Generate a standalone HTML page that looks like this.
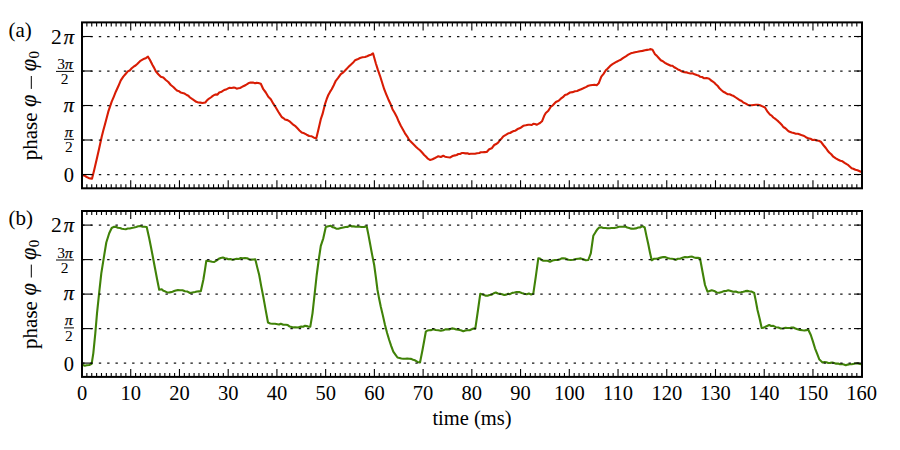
<!DOCTYPE html>
<html><head><meta charset="utf-8"><title>phase plot</title>
<style>html,body{margin:0;padding:0;background:#fff;width:900px;height:450px;overflow:hidden}svg{display:block;font-family:"Liberation Serif",serif}</style>
</head><body><svg width="900" height="450" viewBox="0 0 900 450"><polyline fill="none" stroke="#d81c04" stroke-width="2.1" stroke-linejoin="round" stroke-linecap="round" points="82.5,175 84.6,175.63 86.7,177 88.47,177.91 90.23,178.4 92,178.7 94.2,170 96.7,159.2 99.2,148.3 101.7,136.7 103.35,130.21 105,124.2 106.65,117.95 108.3,111.7 110,106.65 111.7,101.7 113.75,96.85 115.8,91.7 118.3,86.29 120.8,80.3 123.3,76.59 125.8,73.7 127.77,71.43 129.73,70.44 131.7,68.3 133.63,66.7 135.57,65.5 137.5,63.7 140,61.2 142.5,59.7 144.33,58.65 146.17,57.92 148,56.7 150,60 152.5,65 154.15,67.88 155.8,71.3 158.3,74.2 160.8,76.7 163.3,77.5 165.8,80 168.3,82 170.8,85 173.3,87 175.8,89.5 177.5,90.85 179.2,91.3 180.85,92.55 182.5,93 184.6,93.53 186.7,95 188.35,95.78 190,97.5 192.1,98.94 194.2,100.3 196.25,101.84 198.3,102.5 200.4,102.63 202.5,103 205.3,102.5 206.8,100.57 208.3,99.2 210.8,97.5 212.5,96.17 214.2,95 215.85,94.38 217.5,94.7 219.2,92.5 221.7,91.7 224.2,90 226.7,89.2 229.2,87.8 231.7,88 233.7,87.5 235.2,87.82 236.7,88.7 238.35,88.29 240,88 241.65,87.1 243.3,86.2 245.8,85 248.3,83.3 250,82.63 251.7,82.5 253.35,82.63 255,83.3 256.65,82.87 258.3,83 260.8,83.7 263.3,89.2 265.8,92.5 268.3,96.7 270.8,99.2 273.3,103.7 275.8,107.5 278.3,111.7 280,114.31 281.7,117 283.35,118.04 285,119.5 287.5,120.12 290,121.7 292.5,124.09 295,125.8 297.23,128.09 299.47,130.41 301.7,132.5 304.2,133.29 306.7,134.7 309.2,135.99 311.7,136.3 314,137.66 316.3,138.3 318.3,130 320.8,119.2 322.5,114.2 325,104.2 326.65,99.22 328.3,95 330,91.93 331.7,89.2 333.75,85.22 335.8,80.8 338.3,77.71 340.8,74.2 343.3,72.39 345.8,69.7 348.3,67.12 350.8,64.7 352.9,62.83 355,60.3 357.5,59.32 360,58 362.5,57.3 365,57 367.1,56.24 369.2,55.3 371.1,54.68 373,53.3 375.8,63.3 377.9,69.9 380,75.8 382.1,82.51 384.2,89.2 386.25,94.29 388.3,99.2 390.4,103.73 392.5,109.2 394.6,112.69 396.7,116.7 398.75,121.55 400.8,125.8 402.9,129.46 405,133.3 407.1,136.32 409.2,140 411.7,142.55 414.2,145 416.13,146.97 418.07,148.71 420,150.3 422.1,152.52 424.2,155 425.85,156.59 427.5,158.3 430,160 432.5,159.2 435,158 436.65,157.16 438.3,156.3 440.8,157 443.3,155.8 445,156.68 446.7,157 448.35,157.27 450,157.5 451.65,156.54 453.3,155.8 455,155.39 456.7,155 458.35,154.03 460,154 461.65,153.04 463.3,153 465.4,153.35 467.5,153.3 469.15,153.98 470.8,153.7 472.9,153.79 475,153.7 477.1,153.24 479.2,153 480.85,152.27 482.5,152.2 484.6,152.1 486.7,152 489.2,149.2 491.7,148.3 494.2,145 496.7,143.7 498.35,142.33 500,140 501.65,138.42 503.3,136.3 505.8,134.84 508.3,133.3 510,133.01 511.7,132 513.35,131.13 515,130.8 516.65,129.76 518.3,128.7 520.8,127.7 523.3,125.8 525.8,125.33 528.3,124.7 530,124.81 531.7,125 533.3,123.8 535,124.02 536.7,124.7 538.35,123.9 540,123 542,121.3 544.2,115.8 545.8,113 548.3,110.8 550.8,106.7 552.5,105.66 554.2,103.7 555.85,102.01 557.5,101.3 559.15,100.28 560.8,98.7 562.9,97.17 565,95 567.5,94.14 570,92.5 572.5,92.14 575,91.3 577.1,90.96 579.2,90 581.25,89.17 583.3,88.3 585.8,87.11 588.3,85.8 590.4,85.33 592.5,85 594.6,84.71 596.7,85.3 598.7,83.3 601.3,76.7 603.55,73.87 605.8,70.3 607.5,68.72 609.2,67 610.85,65.3 612.5,64.2 614.6,62.95 616.7,61.7 618.75,60.68 620.8,59.7 623.3,57.86 625.8,56.3 628.3,54.65 630.8,53.3 632.9,52.79 635,52.2 637.5,51.82 640,51.2 642.5,50.86 645,50.3 647.1,49.86 649.2,49.5 650.85,49.13 652.5,49.7 655,54.2 656.65,55.58 658.3,57.5 660.8,60.3 662.9,61.23 665,62.8 667.1,63.98 669.2,65 670.85,65.76 672.5,65.8 674.15,67.2 675.8,68 677.9,69.45 680,70.3 682.1,71.57 684.2,72.2 686.25,72.36 688.3,73 690.4,73.49 692.5,73.3 694.6,74.32 696.7,75 698.35,75.43 700,76.7 702.1,77.02 704.2,78.3 706.7,78.01 709.2,78.7 710.85,80.26 712.5,81.3 714.15,82.5 715.8,84.2 717.5,85.71 719.2,88 721.25,89.97 723.3,91.7 725.4,92.79 727.5,94.2 729.6,94.32 731.7,95.3 733.75,96.06 735.8,97.5 737.9,98.93 740,100.3 741.65,101.07 743.3,102.5 745.4,103.37 747.5,104.7 749.6,105.21 751.7,105.3 753.75,104.95 755.8,104.7 757.9,104.82 760,105.3 762.5,106.37 765,107.5 767.5,111.7 770,114.7 771.65,115.62 773.3,117.5 775,118.64 776.7,120 778.35,121.42 780,123 781.65,124.69 783.3,127 785.4,128.26 787.5,130.3 789.6,131.8 791.7,132.5 793.75,133.11 795.8,133.7 797.9,133.81 800,134.5 802.1,135.36 804.2,136 806.25,137.47 808.3,138.3 810.4,138.67 812.5,140 814.6,139.77 816.7,140.5 818.75,140.75 820.8,141.7 823.3,145 825.8,148 827.5,150.47 829.2,152.5 831.25,154.26 833.3,156.7 835.8,158.4 838.3,159.7 840.4,160.68 842.5,161.3 844.6,162.79 846.7,164.2 848.35,165.17 850,166.7 851.65,168.18 853.3,168.7 855.4,169.8 857.5,170.3 859.15,171.02 860.8,171.7"/><polyline fill="none" stroke="#408208" stroke-width="2.1" stroke-linejoin="round" stroke-linecap="round" points="83,365 84.85,365.7 86.7,365.3 89.2,365.04 91.7,363.7 93.3,353.3 95.3,333.3 97,313.3 99.15,292.77 101.3,273.3 103.7,258.3 106.3,242.5 109.2,233.3 111.7,228 113.75,226.85 115.8,226.7 117.9,227.75 120,228 121.93,228.68 123.87,229 125.8,229.2 127.77,228.57 129.73,228.53 131.7,228 133.9,227.53 136.1,226.9 138.3,226.2 140.4,226.04 142.5,226.7 144.6,226.77 146.7,227 149.2,238.3 150.85,246.52 152.5,255 155,268.3 157.1,279.27 159.2,289.7 161.7,289.2 163.35,290.84 165,291.3 167.1,292.44 169.2,292.5 170.85,292.15 172.5,291.7 174.15,291.03 175.8,290.5 177.9,290.12 180,290.3 182.5,290.24 185,291.3 187.5,291.58 190,293 192.5,292.46 195,292 196.93,291.55 198.87,291.39 200.8,291.3 203.3,280 204.8,270.87 206.3,260.8 208.15,261.08 210,261.3 212.1,261.72 214.2,262 216.7,260.3 218.75,258.83 220.8,258 222.9,257.58 225,258.3 226.65,258.54 228.3,259.2 230.4,259.01 232.5,259.7 234.6,259.21 236.7,258.7 238.75,258.95 240.8,258 242.9,258.21 245,258 247.1,258.22 249.2,259.2 251.23,259.67 253.27,259.56 255.3,259.2 257.25,267.38 259.2,275 261.25,286.34 263.3,296.7 265.65,309.92 268,322.5 270.25,323.45 272.5,323.7 275,323.77 277.5,324.2 279.15,324.53 280.8,323.7 283.3,324.75 285.8,324.7 287.77,325.06 289.73,326.54 291.7,327 293.63,327.42 295.57,327.29 297.5,327.5 299.38,327.11 301.25,326.64 303.12,326.73 305,325.8 306.77,326.1 308.53,326.8 310.3,326.7 312.5,313.3 314.7,293.3 316.7,275 318.7,260 320.8,245.8 323.3,238.3 325.8,227 328.3,226.22 330.8,225.8 332.5,227.11 334.2,227.5 336.25,228.58 338.3,228.7 340.8,228.05 343.3,227.5 345.53,227.01 347.77,226.87 350,225.8 351.93,226.37 353.87,226.38 355.8,226.7 357.77,226.47 359.73,226.69 361.7,227 364.2,226.89 366.7,226.3 368.35,234.4 370,243.3 372.1,254.64 374.2,265 375.85,277.22 377.5,290 379.15,298.84 380.8,306.7 382.9,315.62 385,325 387.1,333.05 389.2,340 391.25,346.1 393.3,351.7 395.4,354.61 397.5,357.5 399.43,357.92 401.37,358.48 403.3,358.7 405.27,358.81 407.23,358.47 409.2,358.7 411.13,358.88 413.07,359.78 415,360.3 417.5,361.92 420,362.5 422.5,350 424.15,341 425.8,331.7 427.5,330.49 429.2,330.3 431.25,330.13 433.3,329.2 435.8,330.02 438.3,330.3 440.8,330.79 443.3,330.3 445.4,329.38 447.5,329.2 449.73,329.33 451.97,328.34 454.2,328.7 456.25,329.38 458.3,329.7 460.8,330.23 463.3,331.3 465.4,330.47 467.5,330.3 469.6,330.2 471.7,329.2 473.5,328.48 475.3,328.7 478,310 480.3,293.7 481.8,294.23 483.3,294.7 485.4,295.67 487.5,295.8 489.6,294.94 491.7,294.7 493.75,293.25 495.8,292.5 497.9,293.56 500,293.7 502.1,294.26 504.2,295 506.25,294.61 508.3,293.7 510,294.2 512.23,292.9 514.47,292.57 516.7,292 519.2,292.11 521.7,293 524.2,293.81 526.7,294.2 528.9,293.53 531.1,294.41 533.3,293.7 535.8,276.7 538.3,258.3 540,258.58 541.7,260 543.35,260.68 545,260.8 547.5,260.68 550,261.7 552.5,260.56 555,260 557.5,259.98 560,259.2 561.65,258.34 563.3,258.3 565.8,258.62 568.3,259.7 570.8,259.93 573.3,259.7 575.8,259.06 578.3,258.7 580.8,258.4 583.3,259.2 585.8,260.19 588.3,260 590.8,253.3 593.3,235.8 595.8,231.7 597.5,229.18 599.2,227.5 601.25,227.19 603.3,228 605.4,227.96 607.5,228.3 609.6,228.29 611.7,228 614.2,228.04 616.7,227.5 618.9,226.77 621.1,226.77 623.3,226.7 625.27,226.57 627.23,227.51 629.2,228 631.25,228.67 633.3,228.7 635.8,228.39 638.3,227.5 640.4,227.33 642.5,226.2 644.7,227.5 646.5,236.16 648.3,244.2 650,252.68 651.7,260.3 654.2,258.7 656.25,258.75 658.3,258.3 660.8,257.62 663.3,257 665.4,257.17 667.5,258 669.6,258.54 671.7,258.7 673.75,258.98 675.8,259.7 677.9,258.72 680,258.7 682.5,257.79 685,257 687.5,257.3 690,256.7 692.1,256.65 694.2,257.5 696.13,257.87 698.07,257.9 700,258.3 702.5,271.7 705,285 707.5,291.7 709.6,291.02 711.7,290.3 714.2,290.97 716.7,292.5 719.2,292.8 721.7,292 723.9,291.14 726.1,290.99 728.3,290.3 730.8,290.9 733.3,291.7 735.8,291.52 738.3,292.5 740.8,292.17 743.3,291.7 745.27,291.14 747.23,290.9 749.2,291.3 751.7,291.59 754.2,293 755.85,301.09 757.5,310 759.6,318.52 761.7,328 763.35,327.66 765,327 767.1,326.01 769.2,325 771.25,325.98 773.3,325.8 775.8,327.17 778.3,327.5 780.8,328.49 783.3,328.3 785.53,327.88 787.77,328.03 790,328 791.65,327.45 793.3,327.5 795.4,328.46 797.5,329.2 800,329.9 802.5,330.3 804.43,330.46 806.37,330.15 808.3,329.7 810.8,335 812.9,341.36 815,348.3 817.1,353.66 819.2,359.2 820.85,360.88 822.5,362.5 824.43,362.07 826.37,362.28 828.3,363 830.27,362.89 832.23,362.53 834.2,363 836.13,363.67 838.07,363.49 840,364.2 841.93,364.09 843.87,364.55 845.8,365.3 847.77,364.61 849.73,364.23 851.7,364.2 854.2,363.77 856.7,363.3 859,363.71 861.3,364.2"/><line x1="82" y1="174.5" x2="862" y2="174.5" stroke="#151515" stroke-width="1.25" stroke-dasharray="2.4 5.93" stroke-dashoffset="8.18"/><line x1="82" y1="174.5" x2="92" y2="174.5" stroke="#000" stroke-width="1.1"/><line x1="854" y1="174.5" x2="862" y2="174.5" stroke="#000" stroke-width="1.1"/><line x1="82" y1="140" x2="862" y2="140" stroke="#151515" stroke-width="1.25" stroke-dasharray="2.4 5.93" stroke-dashoffset="8.18"/><line x1="82" y1="140" x2="92" y2="140" stroke="#000" stroke-width="1.1"/><line x1="854" y1="140" x2="862" y2="140" stroke="#000" stroke-width="1.1"/><line x1="82" y1="105.5" x2="862" y2="105.5" stroke="#151515" stroke-width="1.25" stroke-dasharray="2.4 5.93" stroke-dashoffset="8.18"/><line x1="82" y1="105.5" x2="92" y2="105.5" stroke="#000" stroke-width="1.1"/><line x1="854" y1="105.5" x2="862" y2="105.5" stroke="#000" stroke-width="1.1"/><line x1="82" y1="71" x2="862" y2="71" stroke="#151515" stroke-width="1.25" stroke-dasharray="2.4 5.93" stroke-dashoffset="8.18"/><line x1="82" y1="71" x2="92" y2="71" stroke="#000" stroke-width="1.1"/><line x1="854" y1="71" x2="862" y2="71" stroke="#000" stroke-width="1.1"/><line x1="82" y1="36.5" x2="862" y2="36.5" stroke="#151515" stroke-width="1.25" stroke-dasharray="2.4 5.93" stroke-dashoffset="8.18"/><line x1="82" y1="36.5" x2="92" y2="36.5" stroke="#000" stroke-width="1.1"/><line x1="854" y1="36.5" x2="862" y2="36.5" stroke="#000" stroke-width="1.1"/><path d="M82 22.4v8M82 188.3v-8M86.87 22.4v4M86.87 188.3v-4M91.75 22.4v4M91.75 188.3v-4M96.62 22.4v4M96.62 188.3v-4M101.49 22.4v4M101.49 188.3v-4M106.37 22.4v4M106.37 188.3v-4M111.24 22.4v4M111.24 188.3v-4M116.11 22.4v4M116.11 188.3v-4M120.98 22.4v4M120.98 188.3v-4M125.86 22.4v4M125.86 188.3v-4M130.73 22.4v8M130.73 188.3v-8M135.6 22.4v4M135.6 188.3v-4M140.48 22.4v4M140.48 188.3v-4M145.35 22.4v4M145.35 188.3v-4M150.22 22.4v4M150.22 188.3v-4M155.09 22.4v4M155.09 188.3v-4M159.97 22.4v4M159.97 188.3v-4M164.84 22.4v4M164.84 188.3v-4M169.71 22.4v4M169.71 188.3v-4M174.59 22.4v4M174.59 188.3v-4M179.46 22.4v8M179.46 188.3v-8M184.33 22.4v4M184.33 188.3v-4M189.21 22.4v4M189.21 188.3v-4M194.08 22.4v4M194.08 188.3v-4M198.95 22.4v4M198.95 188.3v-4M203.82 22.4v4M203.82 188.3v-4M208.7 22.4v4M208.7 188.3v-4M213.57 22.4v4M213.57 188.3v-4M218.44 22.4v4M218.44 188.3v-4M223.32 22.4v4M223.32 188.3v-4M228.19 22.4v8M228.19 188.3v-8M233.06 22.4v4M233.06 188.3v-4M237.94 22.4v4M237.94 188.3v-4M242.81 22.4v4M242.81 188.3v-4M247.68 22.4v4M247.68 188.3v-4M252.56 22.4v4M252.56 188.3v-4M257.43 22.4v4M257.43 188.3v-4M262.3 22.4v4M262.3 188.3v-4M267.17 22.4v4M267.17 188.3v-4M272.05 22.4v4M272.05 188.3v-4M276.92 22.4v8M276.92 188.3v-8M281.79 22.4v4M281.79 188.3v-4M286.67 22.4v4M286.67 188.3v-4M291.54 22.4v4M291.54 188.3v-4M296.41 22.4v4M296.41 188.3v-4M301.28 22.4v4M301.28 188.3v-4M306.16 22.4v4M306.16 188.3v-4M311.03 22.4v4M311.03 188.3v-4M315.9 22.4v4M315.9 188.3v-4M320.78 22.4v4M320.78 188.3v-4M325.65 22.4v8M325.65 188.3v-8M330.52 22.4v4M330.52 188.3v-4M335.4 22.4v4M335.4 188.3v-4M340.27 22.4v4M340.27 188.3v-4M345.14 22.4v4M345.14 188.3v-4M350.01 22.4v4M350.01 188.3v-4M354.89 22.4v4M354.89 188.3v-4M359.76 22.4v4M359.76 188.3v-4M364.63 22.4v4M364.63 188.3v-4M369.51 22.4v4M369.51 188.3v-4M374.38 22.4v8M374.38 188.3v-8M379.25 22.4v4M379.25 188.3v-4M384.13 22.4v4M384.13 188.3v-4M389 22.4v4M389 188.3v-4M393.87 22.4v4M393.87 188.3v-4M398.75 22.4v4M398.75 188.3v-4M403.62 22.4v4M403.62 188.3v-4M408.49 22.4v4M408.49 188.3v-4M413.36 22.4v4M413.36 188.3v-4M418.24 22.4v4M418.24 188.3v-4M423.11 22.4v8M423.11 188.3v-8M427.98 22.4v4M427.98 188.3v-4M432.86 22.4v4M432.86 188.3v-4M437.73 22.4v4M437.73 188.3v-4M442.6 22.4v4M442.6 188.3v-4M447.48 22.4v4M447.48 188.3v-4M452.35 22.4v4M452.35 188.3v-4M457.22 22.4v4M457.22 188.3v-4M462.09 22.4v4M462.09 188.3v-4M466.97 22.4v4M466.97 188.3v-4M471.84 22.4v8M471.84 188.3v-8M476.71 22.4v4M476.71 188.3v-4M481.59 22.4v4M481.59 188.3v-4M486.46 22.4v4M486.46 188.3v-4M491.33 22.4v4M491.33 188.3v-4M496.21 22.4v4M496.21 188.3v-4M501.08 22.4v4M501.08 188.3v-4M505.95 22.4v4M505.95 188.3v-4M510.82 22.4v4M510.82 188.3v-4M515.7 22.4v4M515.7 188.3v-4M520.57 22.4v8M520.57 188.3v-8M525.44 22.4v4M525.44 188.3v-4M530.32 22.4v4M530.32 188.3v-4M535.19 22.4v4M535.19 188.3v-4M540.06 22.4v4M540.06 188.3v-4M544.93 22.4v4M544.93 188.3v-4M549.81 22.4v4M549.81 188.3v-4M554.68 22.4v4M554.68 188.3v-4M559.55 22.4v4M559.55 188.3v-4M564.43 22.4v4M564.43 188.3v-4M569.3 22.4v8M569.3 188.3v-8M574.17 22.4v4M574.17 188.3v-4M579.05 22.4v4M579.05 188.3v-4M583.92 22.4v4M583.92 188.3v-4M588.79 22.4v4M588.79 188.3v-4M593.66 22.4v4M593.66 188.3v-4M598.54 22.4v4M598.54 188.3v-4M603.41 22.4v4M603.41 188.3v-4M608.28 22.4v4M608.28 188.3v-4M613.16 22.4v4M613.16 188.3v-4M618.03 22.4v8M618.03 188.3v-8M622.9 22.4v4M622.9 188.3v-4M627.78 22.4v4M627.78 188.3v-4M632.65 22.4v4M632.65 188.3v-4M637.52 22.4v4M637.52 188.3v-4M642.39 22.4v4M642.39 188.3v-4M647.27 22.4v4M647.27 188.3v-4M652.14 22.4v4M652.14 188.3v-4M657.01 22.4v4M657.01 188.3v-4M661.89 22.4v4M661.89 188.3v-4M666.76 22.4v8M666.76 188.3v-8M671.63 22.4v4M671.63 188.3v-4M676.51 22.4v4M676.51 188.3v-4M681.38 22.4v4M681.38 188.3v-4M686.25 22.4v4M686.25 188.3v-4M691.12 22.4v4M691.12 188.3v-4M696 22.4v4M696 188.3v-4M700.87 22.4v4M700.87 188.3v-4M705.74 22.4v4M705.74 188.3v-4M710.62 22.4v4M710.62 188.3v-4M715.49 22.4v8M715.49 188.3v-8M720.36 22.4v4M720.36 188.3v-4M725.24 22.4v4M725.24 188.3v-4M730.11 22.4v4M730.11 188.3v-4M734.98 22.4v4M734.98 188.3v-4M739.86 22.4v4M739.86 188.3v-4M744.73 22.4v4M744.73 188.3v-4M749.6 22.4v4M749.6 188.3v-4M754.47 22.4v4M754.47 188.3v-4M759.35 22.4v4M759.35 188.3v-4M764.22 22.4v8M764.22 188.3v-8M769.09 22.4v4M769.09 188.3v-4M773.97 22.4v4M773.97 188.3v-4M778.84 22.4v4M778.84 188.3v-4M783.71 22.4v4M783.71 188.3v-4M788.59 22.4v4M788.59 188.3v-4M793.46 22.4v4M793.46 188.3v-4M798.33 22.4v4M798.33 188.3v-4M803.2 22.4v4M803.2 188.3v-4M808.08 22.4v4M808.08 188.3v-4M812.95 22.4v8M812.95 188.3v-8M817.82 22.4v4M817.82 188.3v-4M822.7 22.4v4M822.7 188.3v-4M827.57 22.4v4M827.57 188.3v-4M832.44 22.4v4M832.44 188.3v-4M837.32 22.4v4M837.32 188.3v-4M842.19 22.4v4M842.19 188.3v-4M847.06 22.4v4M847.06 188.3v-4M851.93 22.4v4M851.93 188.3v-4M856.81 22.4v4M856.81 188.3v-4M861.68 22.4v8M861.68 188.3v-8" stroke="#000" stroke-width="1.1" fill="none"/><rect x="82" y="22.4" width="780" height="165.9" fill="none" stroke="#000" stroke-width="2"/><line x1="82" y1="363.1" x2="862" y2="363.1" stroke="#151515" stroke-width="1.25" stroke-dasharray="2.4 5.93" stroke-dashoffset="8.18"/><line x1="82" y1="363.1" x2="92" y2="363.1" stroke="#000" stroke-width="1.1"/><line x1="854" y1="363.1" x2="862" y2="363.1" stroke="#000" stroke-width="1.1"/><line x1="82" y1="328.6" x2="862" y2="328.6" stroke="#151515" stroke-width="1.25" stroke-dasharray="2.4 5.93" stroke-dashoffset="8.18"/><line x1="82" y1="328.6" x2="92" y2="328.6" stroke="#000" stroke-width="1.1"/><line x1="854" y1="328.6" x2="862" y2="328.6" stroke="#000" stroke-width="1.1"/><line x1="82" y1="294.1" x2="862" y2="294.1" stroke="#151515" stroke-width="1.25" stroke-dasharray="2.4 5.93" stroke-dashoffset="8.18"/><line x1="82" y1="294.1" x2="92" y2="294.1" stroke="#000" stroke-width="1.1"/><line x1="854" y1="294.1" x2="862" y2="294.1" stroke="#000" stroke-width="1.1"/><line x1="82" y1="259.6" x2="862" y2="259.6" stroke="#151515" stroke-width="1.25" stroke-dasharray="2.4 5.93" stroke-dashoffset="8.18"/><line x1="82" y1="259.6" x2="92" y2="259.6" stroke="#000" stroke-width="1.1"/><line x1="854" y1="259.6" x2="862" y2="259.6" stroke="#000" stroke-width="1.1"/><line x1="82" y1="225.1" x2="862" y2="225.1" stroke="#151515" stroke-width="1.25" stroke-dasharray="2.4 5.93" stroke-dashoffset="8.18"/><line x1="82" y1="225.1" x2="92" y2="225.1" stroke="#000" stroke-width="1.1"/><line x1="854" y1="225.1" x2="862" y2="225.1" stroke="#000" stroke-width="1.1"/><path d="M82 211v8M82 376.9v-8M86.87 211v4M86.87 376.9v-4M91.75 211v4M91.75 376.9v-4M96.62 211v4M96.62 376.9v-4M101.49 211v4M101.49 376.9v-4M106.37 211v4M106.37 376.9v-4M111.24 211v4M111.24 376.9v-4M116.11 211v4M116.11 376.9v-4M120.98 211v4M120.98 376.9v-4M125.86 211v4M125.86 376.9v-4M130.73 211v8M130.73 376.9v-8M135.6 211v4M135.6 376.9v-4M140.48 211v4M140.48 376.9v-4M145.35 211v4M145.35 376.9v-4M150.22 211v4M150.22 376.9v-4M155.09 211v4M155.09 376.9v-4M159.97 211v4M159.97 376.9v-4M164.84 211v4M164.84 376.9v-4M169.71 211v4M169.71 376.9v-4M174.59 211v4M174.59 376.9v-4M179.46 211v8M179.46 376.9v-8M184.33 211v4M184.33 376.9v-4M189.21 211v4M189.21 376.9v-4M194.08 211v4M194.08 376.9v-4M198.95 211v4M198.95 376.9v-4M203.82 211v4M203.82 376.9v-4M208.7 211v4M208.7 376.9v-4M213.57 211v4M213.57 376.9v-4M218.44 211v4M218.44 376.9v-4M223.32 211v4M223.32 376.9v-4M228.19 211v8M228.19 376.9v-8M233.06 211v4M233.06 376.9v-4M237.94 211v4M237.94 376.9v-4M242.81 211v4M242.81 376.9v-4M247.68 211v4M247.68 376.9v-4M252.56 211v4M252.56 376.9v-4M257.43 211v4M257.43 376.9v-4M262.3 211v4M262.3 376.9v-4M267.17 211v4M267.17 376.9v-4M272.05 211v4M272.05 376.9v-4M276.92 211v8M276.92 376.9v-8M281.79 211v4M281.79 376.9v-4M286.67 211v4M286.67 376.9v-4M291.54 211v4M291.54 376.9v-4M296.41 211v4M296.41 376.9v-4M301.28 211v4M301.28 376.9v-4M306.16 211v4M306.16 376.9v-4M311.03 211v4M311.03 376.9v-4M315.9 211v4M315.9 376.9v-4M320.78 211v4M320.78 376.9v-4M325.65 211v8M325.65 376.9v-8M330.52 211v4M330.52 376.9v-4M335.4 211v4M335.4 376.9v-4M340.27 211v4M340.27 376.9v-4M345.14 211v4M345.14 376.9v-4M350.01 211v4M350.01 376.9v-4M354.89 211v4M354.89 376.9v-4M359.76 211v4M359.76 376.9v-4M364.63 211v4M364.63 376.9v-4M369.51 211v4M369.51 376.9v-4M374.38 211v8M374.38 376.9v-8M379.25 211v4M379.25 376.9v-4M384.13 211v4M384.13 376.9v-4M389 211v4M389 376.9v-4M393.87 211v4M393.87 376.9v-4M398.75 211v4M398.75 376.9v-4M403.62 211v4M403.62 376.9v-4M408.49 211v4M408.49 376.9v-4M413.36 211v4M413.36 376.9v-4M418.24 211v4M418.24 376.9v-4M423.11 211v8M423.11 376.9v-8M427.98 211v4M427.98 376.9v-4M432.86 211v4M432.86 376.9v-4M437.73 211v4M437.73 376.9v-4M442.6 211v4M442.6 376.9v-4M447.48 211v4M447.48 376.9v-4M452.35 211v4M452.35 376.9v-4M457.22 211v4M457.22 376.9v-4M462.09 211v4M462.09 376.9v-4M466.97 211v4M466.97 376.9v-4M471.84 211v8M471.84 376.9v-8M476.71 211v4M476.71 376.9v-4M481.59 211v4M481.59 376.9v-4M486.46 211v4M486.46 376.9v-4M491.33 211v4M491.33 376.9v-4M496.21 211v4M496.21 376.9v-4M501.08 211v4M501.08 376.9v-4M505.95 211v4M505.95 376.9v-4M510.82 211v4M510.82 376.9v-4M515.7 211v4M515.7 376.9v-4M520.57 211v8M520.57 376.9v-8M525.44 211v4M525.44 376.9v-4M530.32 211v4M530.32 376.9v-4M535.19 211v4M535.19 376.9v-4M540.06 211v4M540.06 376.9v-4M544.93 211v4M544.93 376.9v-4M549.81 211v4M549.81 376.9v-4M554.68 211v4M554.68 376.9v-4M559.55 211v4M559.55 376.9v-4M564.43 211v4M564.43 376.9v-4M569.3 211v8M569.3 376.9v-8M574.17 211v4M574.17 376.9v-4M579.05 211v4M579.05 376.9v-4M583.92 211v4M583.92 376.9v-4M588.79 211v4M588.79 376.9v-4M593.66 211v4M593.66 376.9v-4M598.54 211v4M598.54 376.9v-4M603.41 211v4M603.41 376.9v-4M608.28 211v4M608.28 376.9v-4M613.16 211v4M613.16 376.9v-4M618.03 211v8M618.03 376.9v-8M622.9 211v4M622.9 376.9v-4M627.78 211v4M627.78 376.9v-4M632.65 211v4M632.65 376.9v-4M637.52 211v4M637.52 376.9v-4M642.39 211v4M642.39 376.9v-4M647.27 211v4M647.27 376.9v-4M652.14 211v4M652.14 376.9v-4M657.01 211v4M657.01 376.9v-4M661.89 211v4M661.89 376.9v-4M666.76 211v8M666.76 376.9v-8M671.63 211v4M671.63 376.9v-4M676.51 211v4M676.51 376.9v-4M681.38 211v4M681.38 376.9v-4M686.25 211v4M686.25 376.9v-4M691.12 211v4M691.12 376.9v-4M696 211v4M696 376.9v-4M700.87 211v4M700.87 376.9v-4M705.74 211v4M705.74 376.9v-4M710.62 211v4M710.62 376.9v-4M715.49 211v8M715.49 376.9v-8M720.36 211v4M720.36 376.9v-4M725.24 211v4M725.24 376.9v-4M730.11 211v4M730.11 376.9v-4M734.98 211v4M734.98 376.9v-4M739.86 211v4M739.86 376.9v-4M744.73 211v4M744.73 376.9v-4M749.6 211v4M749.6 376.9v-4M754.47 211v4M754.47 376.9v-4M759.35 211v4M759.35 376.9v-4M764.22 211v8M764.22 376.9v-8M769.09 211v4M769.09 376.9v-4M773.97 211v4M773.97 376.9v-4M778.84 211v4M778.84 376.9v-4M783.71 211v4M783.71 376.9v-4M788.59 211v4M788.59 376.9v-4M793.46 211v4M793.46 376.9v-4M798.33 211v4M798.33 376.9v-4M803.2 211v4M803.2 376.9v-4M808.08 211v4M808.08 376.9v-4M812.95 211v8M812.95 376.9v-8M817.82 211v4M817.82 376.9v-4M822.7 211v4M822.7 376.9v-4M827.57 211v4M827.57 376.9v-4M832.44 211v4M832.44 376.9v-4M837.32 211v4M837.32 376.9v-4M842.19 211v4M842.19 376.9v-4M847.06 211v4M847.06 376.9v-4M851.93 211v4M851.93 376.9v-4M856.81 211v4M856.81 376.9v-4M861.68 211v8M861.68 376.9v-8" stroke="#000" stroke-width="1.1" fill="none"/><rect x="82" y="211" width="780" height="165.9" fill="none" stroke="#000" stroke-width="2"/><g font-family="Liberation Serif, serif" fill="#000"><text x="8.5" y="36.8" font-size="21">(a)</text><text x="74" y="182" font-size="20.5" text-anchor="end">0</text><text x="69" y="136.7" font-size="15.5" text-anchor="middle" font-style="italic" stroke="#000" stroke-width="0.25">π</text><line x1="64" y1="139.3" x2="74" y2="139.3" stroke="#000" stroke-width="1"/><text x="68.8" y="152.1" font-size="15.5" text-anchor="middle">2</text><text x="74" y="111.5" font-size="20.5" text-anchor="end" font-style="italic" stroke="#000" stroke-width="0.25">π</text><text x="65" y="69" font-size="15.5" text-anchor="middle">3<tspan font-style="italic" stroke="#000" stroke-width="0.25">π</tspan></text><line x1="56" y1="71.4" x2="74" y2="71.4" stroke="#000" stroke-width="1"/><text x="64.6" y="83.9" font-size="15.5" text-anchor="middle">2</text><text x="51" y="43.8" font-size="21.5">2</text><text x="74" y="43.8" font-size="20.5" text-anchor="end" font-style="italic" stroke="#000" stroke-width="0.25">π</text><text transform="rotate(-90)" x="-160.3" y="37.4" font-size="21">phase</text><text transform="rotate(-90)" x="-107" y="36.0" font-size="22.5" font-style="italic" stroke="#000" stroke-width="0.15">φ</text><line x1="31.3" y1="88.9" x2="31.3" y2="76" stroke="#000" stroke-width="1"/><text transform="rotate(-90)" x="-71.3" y="36.0" font-size="22.5" font-style="italic" stroke="#000" stroke-width="0.15">φ</text><text transform="rotate(-90)" x="-58.6" y="39.2" font-size="15">0</text><text x="8.5" y="225.4" font-size="21">(b)</text><text x="74" y="370.6" font-size="20.5" text-anchor="end">0</text><text x="69" y="325.3" font-size="15.5" text-anchor="middle" font-style="italic" stroke="#000" stroke-width="0.25">π</text><line x1="64" y1="327.9" x2="74" y2="327.9" stroke="#000" stroke-width="1"/><text x="68.8" y="340.7" font-size="15.5" text-anchor="middle">2</text><text x="74" y="300.1" font-size="20.5" text-anchor="end" font-style="italic" stroke="#000" stroke-width="0.25">π</text><text x="65" y="257.6" font-size="15.5" text-anchor="middle">3<tspan font-style="italic" stroke="#000" stroke-width="0.25">π</tspan></text><line x1="56" y1="260" x2="74" y2="260" stroke="#000" stroke-width="1"/><text x="64.6" y="272.5" font-size="15.5" text-anchor="middle">2</text><text x="51" y="232.4" font-size="21.5">2</text><text x="74" y="232.4" font-size="20.5" text-anchor="end" font-style="italic" stroke="#000" stroke-width="0.25">π</text><text transform="rotate(-90)" x="-348.9" y="37.4" font-size="21">phase</text><text transform="rotate(-90)" x="-295.6" y="36.0" font-size="22.5" font-style="italic" stroke="#000" stroke-width="0.15">φ</text><line x1="31.3" y1="277.5" x2="31.3" y2="264.6" stroke="#000" stroke-width="1"/><text transform="rotate(-90)" x="-259.9" y="36.0" font-size="22.5" font-style="italic" stroke="#000" stroke-width="0.15">φ</text><text transform="rotate(-90)" x="-247.2" y="39.2" font-size="15">0</text><text x="82" y="400" font-size="20.5" text-anchor="middle">0</text><text x="130.73" y="400" font-size="20.5" text-anchor="middle">10</text><text x="179.46" y="400" font-size="20.5" text-anchor="middle">20</text><text x="228.19" y="400" font-size="20.5" text-anchor="middle">30</text><text x="276.92" y="400" font-size="20.5" text-anchor="middle">40</text><text x="325.65" y="400" font-size="20.5" text-anchor="middle">50</text><text x="374.38" y="400" font-size="20.5" text-anchor="middle">60</text><text x="423.11" y="400" font-size="20.5" text-anchor="middle">70</text><text x="471.84" y="400" font-size="20.5" text-anchor="middle">80</text><text x="520.57" y="400" font-size="20.5" text-anchor="middle">90</text><text x="569.3" y="400" font-size="20.5" text-anchor="middle">100</text><text x="618.03" y="400" font-size="20.5" text-anchor="middle">110</text><text x="666.76" y="400" font-size="20.5" text-anchor="middle">120</text><text x="715.49" y="400" font-size="20.5" text-anchor="middle">130</text><text x="764.22" y="400" font-size="20.5" text-anchor="middle">140</text><text x="812.95" y="400" font-size="20.5" text-anchor="middle">150</text><text x="861.68" y="400" font-size="20.5" text-anchor="middle">160</text><text x="472" y="424.5" font-size="20.5" text-anchor="middle">time (ms)</text></g></svg></body></html>
